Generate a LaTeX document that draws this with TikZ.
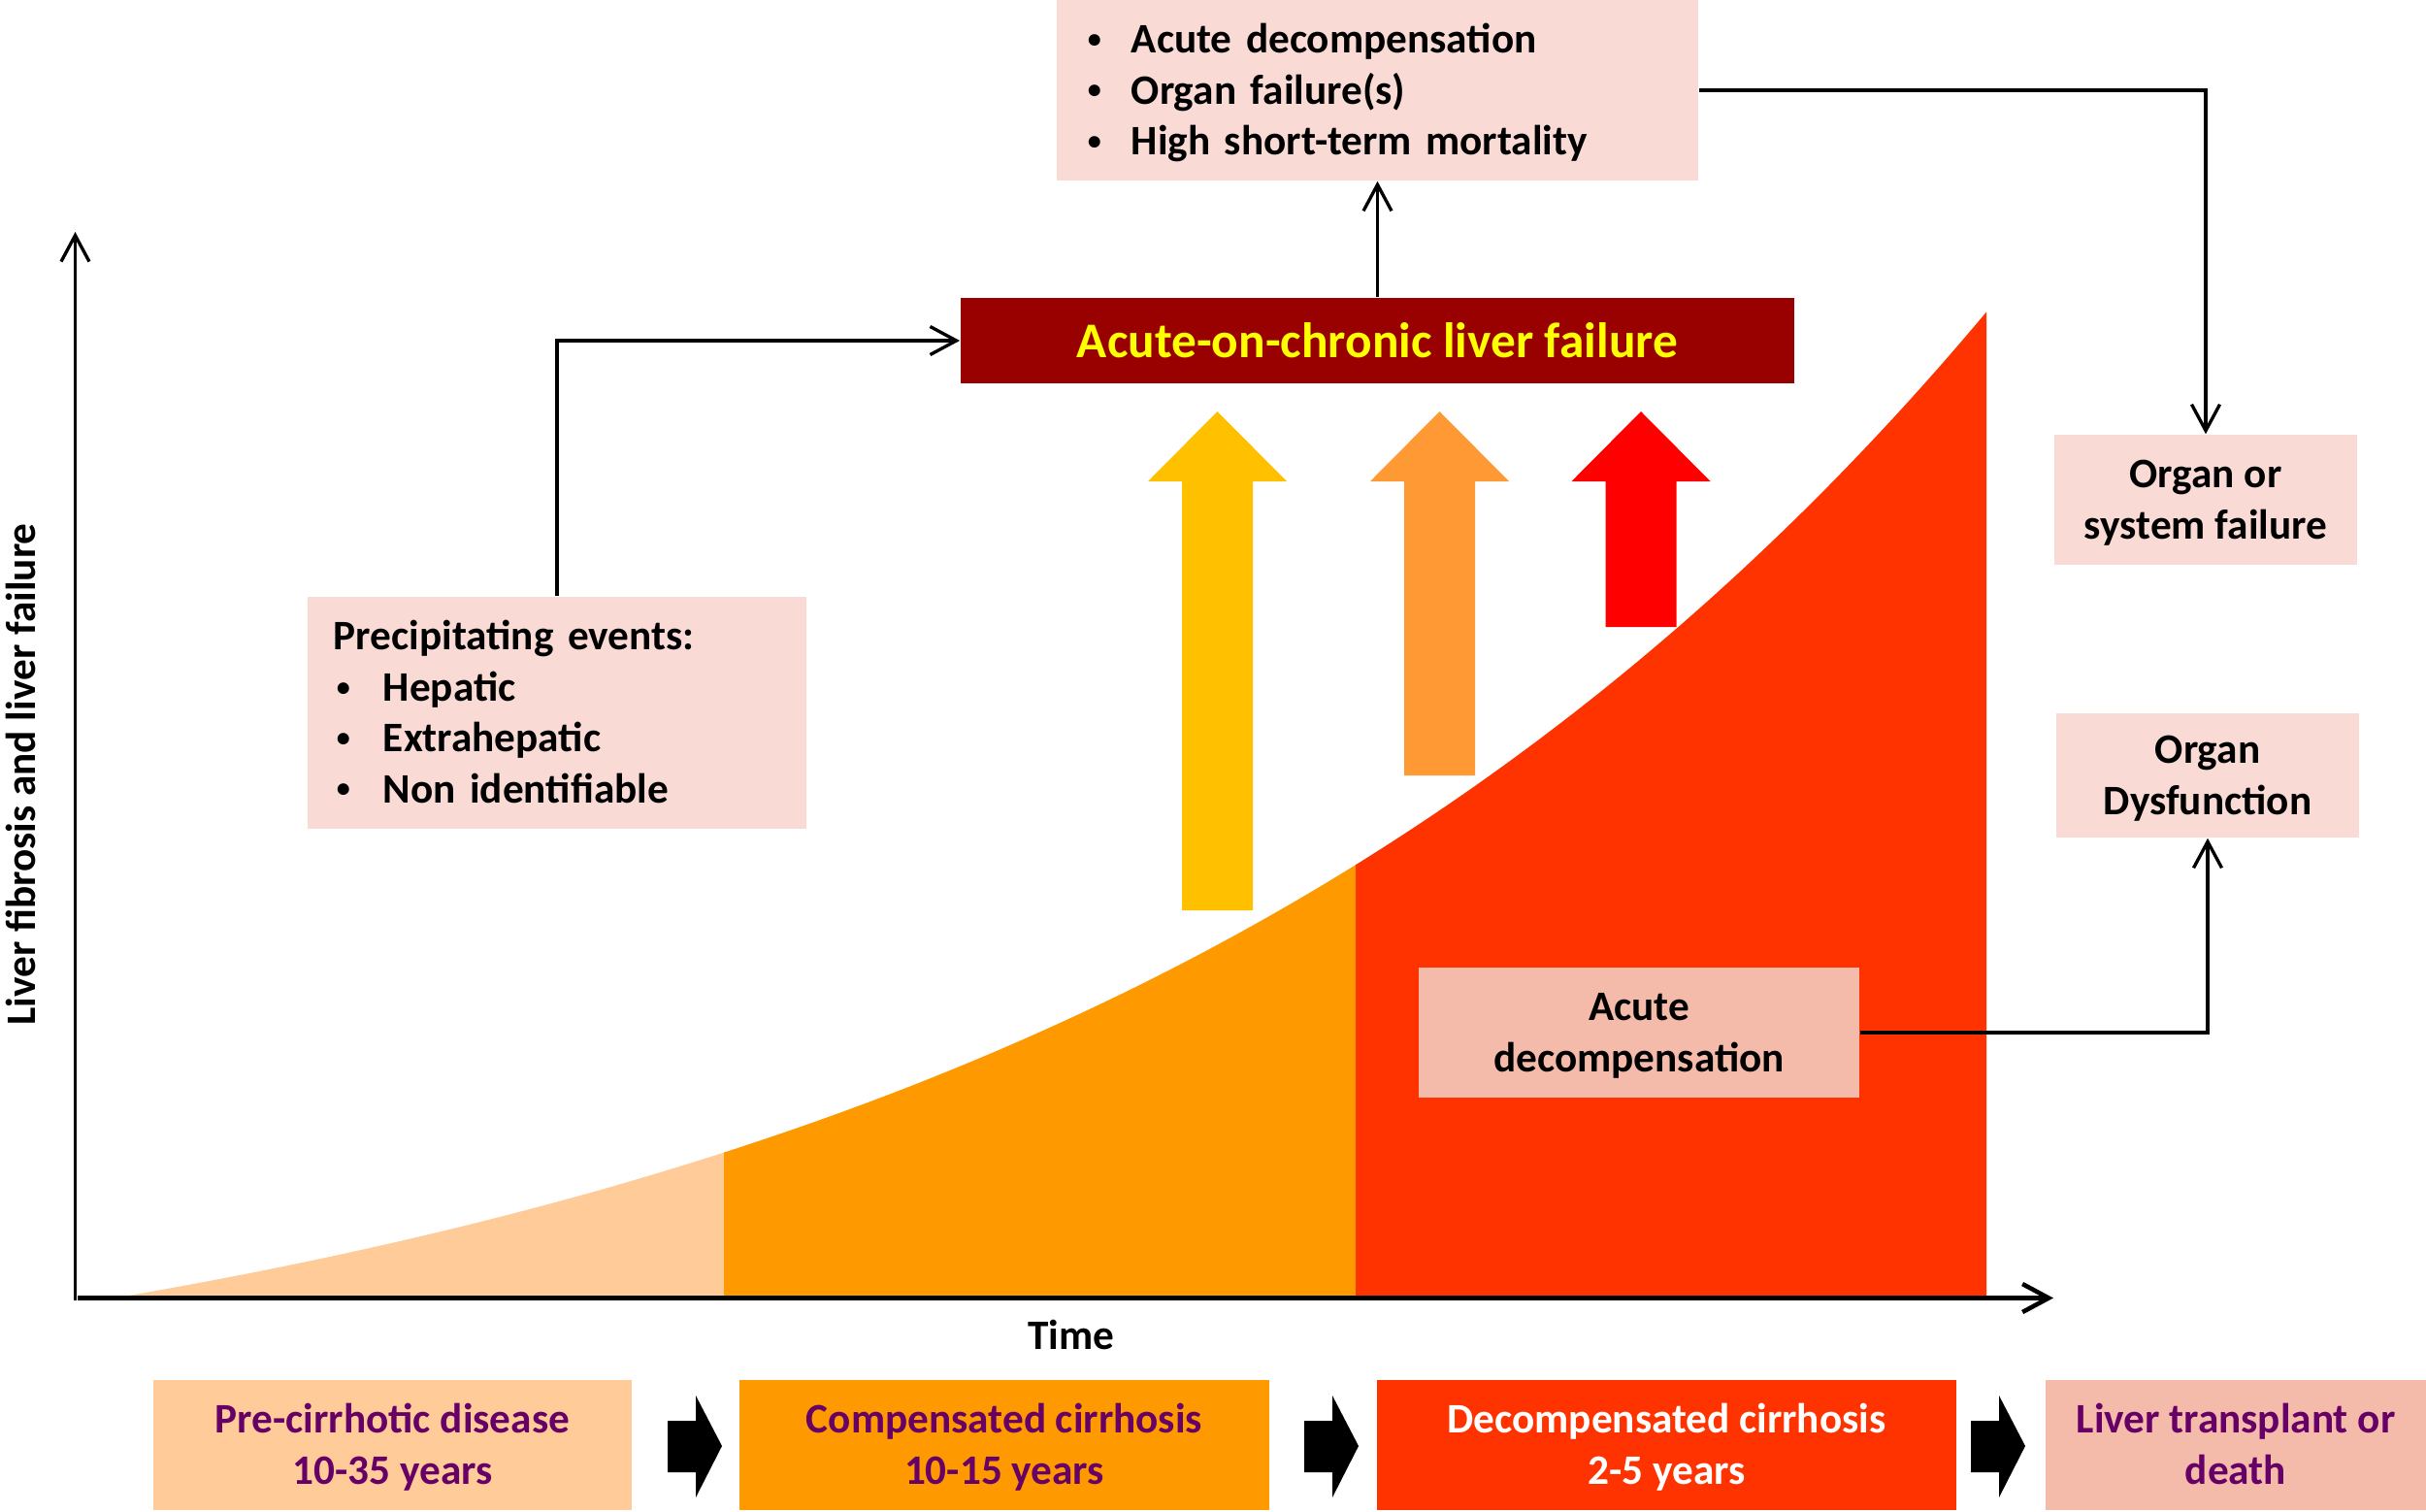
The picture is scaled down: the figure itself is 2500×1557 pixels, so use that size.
\documentclass[tikz,border=0pt]{standalone}
\usepackage{fontspec}
\usepackage{graphicx}
\setmainfont{Carlito}
\usetikzlibrary{arrows.meta}
\definecolor{cPeach}{HTML}{FFCC99}
\definecolor{cOrg}{HTML}{FF9900}
\definecolor{cRed}{HTML}{FF3300}
\definecolor{cPink}{HTML}{F9DAD4}
\definecolor{cSalm}{HTML}{F4BBAA}
\definecolor{cDark}{HTML}{990000}
\definecolor{cYel}{HTML}{FFC000}
\definecolor{cLOrg}{HTML}{FF9933}
\definecolor{cBrt}{HTML}{FF0000}
\definecolor{cPurp}{HTML}{660066}
\definecolor{cAclfTxt}{HTML}{FFFF00}
\newcommand\mainfnt{\fontsize{12.3}{14.9}\selectfont\bfseries}
\newcommand\aclffnt{\fontsize{14.6}{17}\selectfont\bfseries}
\newcommand\smbul{\hspace{0.03cm}\raisebox{0.25ex}{\scalebox{0.65}{\textbullet}}}
\newcommand\bul{\makebox[0.48cm][l]{\smbul}}
\newcommand\bulp{\makebox[0.51cm][l]{\smbul}}
\newcommand\tS{\rule{0pt}{0.40cm}}
\newcommand\bS{\rule[-0.12cm]{0pt}{0.12cm}}
\newcommand\bigarr[3]{\fill[#3] ({#1-36.5},#2) -- ({#1-36.5},496) -- ({#1-71.5},496) -- (#1,424) -- ({#1+71.5},496) -- ({#1+36.5},496) -- ({#1+36.5},#2) -- cycle;}
\newcommand\blkarr[1]{\fill[black] (#1,1464) -- ({#1+29},1464) -- ({#1+29},1438) -- ({#1+56},1490) -- ({#1+29},1543) -- ({#1+29},1517) -- (#1,1517) -- cycle;}
\tikzset{
  box/.style={rectangle, inner sep=0pt, draw=none, align=center, font=\mainfnt},
  conn/.style={line width=0.95pt, -{Straight Barb[length=0.27cm,width=0.29cm]}},
}
\begin{document}
\begin{tikzpicture}[x=0.01cm,y=-0.01cm]
\useasboundingbox (0,0) rectangle (2500,1557);
\def\axY{1337.5}
% area under the curve
\fill[cPeach] (118,\axY) -- plot[domain=118:746,samples=40] (\x,{\axY-170*(exp(0.001*(\x-118))-1)}) -- (746,\axY) -- cycle;
\fill[cOrg] (746,\axY) -- plot[domain=746:1397,samples=50] (\x,{\axY-170*(exp(0.001*(\x-118))-1)}) -- (1397,\axY) -- cycle;
\fill[cRed] (1397,\axY) -- plot[domain=1397:2047,samples=50] (\x,{\axY-170*(exp(0.001*(\x-118))-1)}) -- (2047,\axY) -- cycle;
% axes
\coordinate (yo) at (77.5,1340);
\coordinate (yt) at (77.5,239);
\coordinate (xo) at (80,1337.5);
\coordinate (xt) at (2116,1337.5);
\draw[line width=0.95pt,-{Straight Barb[length=0.27cm,width=0.29cm]}] (yo) -- (yt);
\draw[line width=1.3pt,-{Straight Barb[length=0.27cm,width=0.29cm]}] (xo) -- (xt);
\node[font=\mainfnt, rotate=90, inner sep=0pt] (ylab) at (21,798) {Liver fibrosis and liver failure};
\node[font=\mainfnt] (time) at (1104,1375) {Time};
% big upward arrows
\bigarr{1254.5}{938}{cYel}
\bigarr{1483.5}{799}{cLOrg}
\bigarr{1691}{646}{cBrt}
% boxes
\node[box, fill=cPink, minimum height=1.86cm, text width=6.03cm, inner xsep=0.29cm, align=left] (topbox) at (1419.5,93)
  {\tS\bul Acute decompensation\\\bul Organ failure(s)\\\bul High short-term mortality\bS};
\node[box, fill=cDark, text=cAclfTxt, minimum width=8.59cm, minimum height=0.88cm, font=\aclffnt] (aclf) at (1419.5,351) {\rule{0pt}{0.46cm}Acute-on-chronic liver failure\bS};
\node[box, fill=cPink, minimum height=2.39cm, text width=4.60cm, inner xsep=0.27cm, align=left] (precip) at (574,734.5)
  {\tS Precipitating events:\\\bulp Hepatic\\\bulp Extrahepatic\\\bulp Non identifiable\bS};
\node[box, fill=cPink, minimum width=3.12cm, minimum height=1.34cm] (organfail) at (2273,515) {\tS Organ or\\system failure\bS};
\node[box, fill=cPink, minimum width=3.12cm, minimum height=1.28cm] (organdys) at (2275,799) {\tS Organ\\Dysfunction\bS};
\node[box, fill=cSalm, minimum width=4.54cm, minimum height=1.34cm] (adbox) at (1689,1064) {\tS Acute\\decompensation\bS};
% bottom stage boxes
\node[box, fill=cPeach, text=cPurp, minimum width=4.93cm, minimum height=1.34cm] (b1) at (404.5,1489) {\tS Pre-cirrhotic disease\\10-35 years\bS};
\node[box, fill=cOrg, text=cPurp, minimum width=5.46cm, minimum height=1.34cm] (b2) at (1035,1489) {\tS Compensated cirrhosis\\10-15 years\bS};
\node[box, fill=cRed, text=white, minimum width=5.97cm, minimum height=1.34cm] (b3) at (1717.5,1489) {\tS Decompensated cirrhosis\\2-5 years\bS};
\node[box, fill=cSalm, text=cPurp, minimum width=3.92cm, minimum height=1.34cm] (b4) at (2304,1489) {\tS Liver transplant or\\death\bS};
\blkarr{688}
\blkarr{1344}
\blkarr{2031}
% connectors
\draw[conn] (precip.north) |- (aclf.west);
\draw[conn] (aclf.north) -- (topbox.south);
\draw[conn] (topbox.east) -| (organfail.north);
\draw[conn] (adbox.east) -| (organdys.south);
\end{tikzpicture}
\end{document}
